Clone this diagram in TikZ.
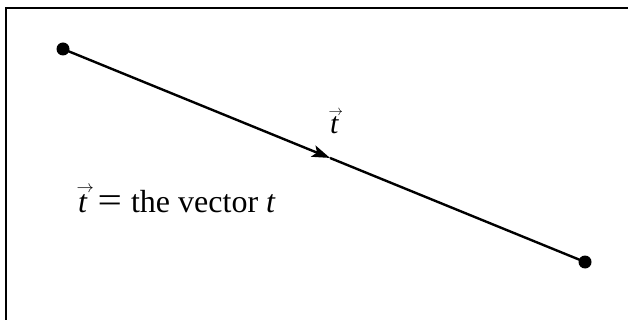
\documentclass[tikz,border=0pt]{standalone}
\usepackage{fontspec}
\setmainfont{Liberation Serif}
\usetikzlibrary{arrows.meta,calc}
\newcommand{\arrowt}[2]{\makebox[0pt][l]{\hspace*{-1.5pt}\raisebox{#2}{\fontsize{#1}{#1}\selectfont$\rightarrow$}}\textit{t}}
\begin{document}
\begin{tikzpicture}[x=1pt,y=-1pt,
  vecline/.style={line width=2.4pt},
  enddot/.style={circle,fill=black,inner sep=0pt,minimum size=13pt},
  frameline/.style={line width=2pt},
  lbl/.style={inner sep=0pt,font=\fontsize{32}{38}\selectfont}]
\useasboundingbox (0,0) rectangle (628,320);
\fill[white] (0,0) rectangle (628,320);
% partial frame (top and left edges)
\draw[frameline] (5.5,320) -- (5.5,8.5) -- (628,8.5);
% end points
\node[enddot] (a) at (63,49) {};
\node[enddot] (b) at (585,262) {};
\coordinate (m) at ($(a.center)!0.5115!(b.center)$);
\draw[vecline,-{Stealth[length=18pt,width=12pt,inset=4pt]}] (a.center) -- (m);
\draw[vecline] (m) -- (b.center);
% labels
\node[lbl,font=\fontsize{30}{36}\selectfont,anchor=base west] (tl) at (330,134) {\arrowt{15}{18pt}};
\node[lbl,anchor=base west] (eq) at (78,212) {\arrowt{17}{20pt}\hspace{10pt}\scalebox{1.35}[1.15]{=}\hspace{9pt}the vector \textit{t}};
\end{tikzpicture}
\end{document}
